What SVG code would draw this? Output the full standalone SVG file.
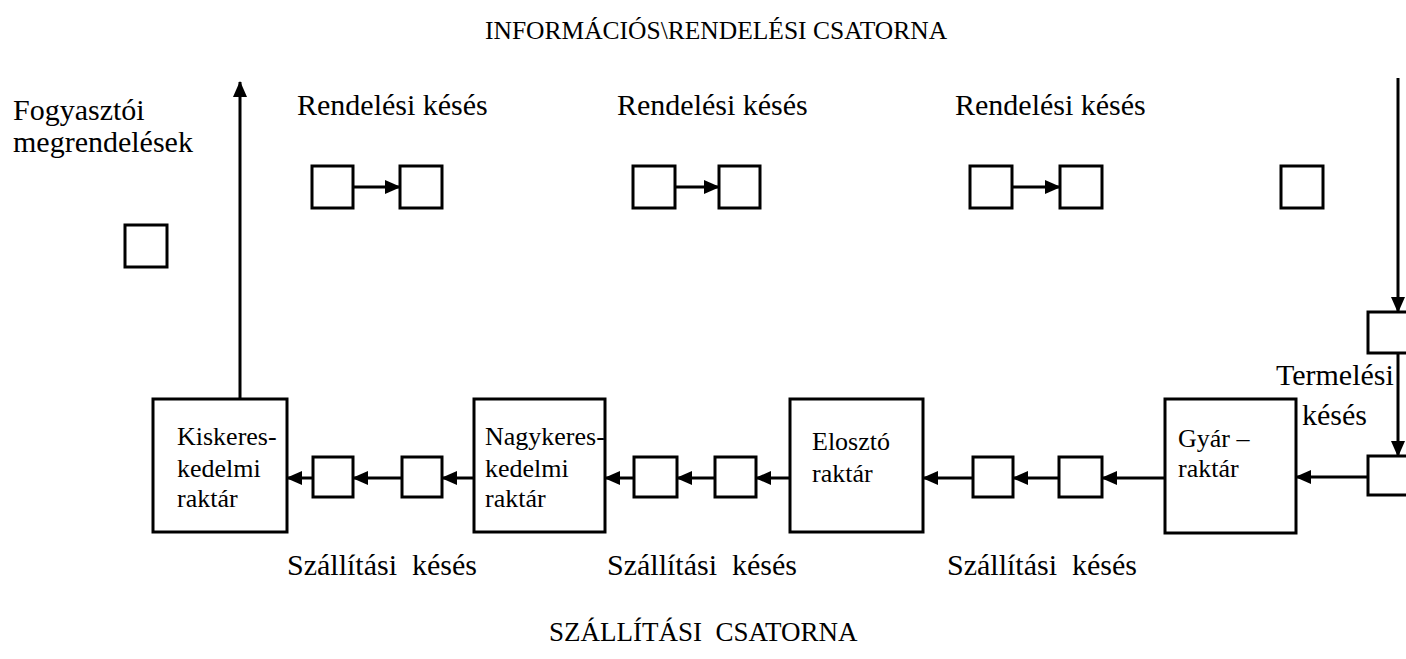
<svg xmlns="http://www.w3.org/2000/svg" width="1406" height="659" viewBox="0 0 1406 659">
<defs>
<marker id="ah" viewBox="0 0 16 14" refX="15" refY="7" markerWidth="16" markerHeight="14" markerUnits="userSpaceOnUse" orient="auto">
<path d="M0,0 L16,7 L0,14 Z" fill="#000"/>
</marker>
</defs>
<style>
.lbl{font-size:30px}
.title{font-size:25.5px}
.title2{font-size:27px}
.bx{font-size:26px}
.box{fill:#fff;stroke:#000;stroke-width:3}
.sq{fill:#fff;stroke:#000;stroke-width:3}
.ln{fill:none;stroke:#000;stroke-width:3}
</style>
<rect width="1406" height="659" fill="#fff"/>

<g id="connectors">
<line class="ln" x1="240" y1="399" x2="240" y2="82" marker-end="url(#ah)"/>
<line class="ln" x1="353" y1="187" x2="400" y2="187" marker-end="url(#ah)"/>
<line class="ln" x1="675" y1="187" x2="719" y2="187" marker-end="url(#ah)"/>
<line class="ln" x1="1012" y1="187" x2="1060" y2="187" marker-end="url(#ah)"/>
<line class="ln" x1="1398" y1="78" x2="1398" y2="312" marker-end="url(#ah)"/>
<line class="ln" x1="1398" y1="353" x2="1398" y2="456" marker-end="url(#ah)"/>
<line class="ln" x1="1368" y1="477" x2="1296" y2="477" marker-end="url(#ah)"/>
<line class="ln" x1="1165" y1="478" x2="1102" y2="478" marker-end="url(#ah)"/>
<line class="ln" x1="1059" y1="478" x2="1013" y2="478" marker-end="url(#ah)"/>
<line class="ln" x1="973" y1="478" x2="923" y2="478" marker-end="url(#ah)"/>
<line class="ln" x1="790" y1="478" x2="756" y2="478" marker-end="url(#ah)"/>
<line class="ln" x1="715" y1="478" x2="677" y2="478" marker-end="url(#ah)"/>
<line class="ln" x1="634" y1="478" x2="605" y2="478" marker-end="url(#ah)"/>
<line class="ln" x1="474" y1="478" x2="442" y2="478" marker-end="url(#ah)"/>
<line class="ln" x1="402" y1="478" x2="353" y2="478" marker-end="url(#ah)"/>
<line class="ln" x1="313" y1="478" x2="287" y2="478" marker-end="url(#ah)"/>
</g>

<g id="labels" font-family="'Liberation Serif', 'Times New Roman', Tinos, serif" fill="#000">
<text class="title" x="485" y="39">INFORMÁCIÓS\RENDELÉSI CSATORNA</text>
<text class="lbl" x="13" y="120">Fogyasztói</text>
<text class="lbl" x="13" y="152">megrendelések</text>
<text class="lbl" x="297" y="115">Rendelési késés</text>
<text class="lbl" x="617" y="115">Rendelési késés</text>
<text class="lbl" x="955" y="115">Rendelési késés</text>
<text class="lbl" x="1276" y="385">Termelési</text>
<text class="lbl" x="1302" y="425">késés</text>
<text class="lbl" x="287" y="575" xml:space="preserve">Szállítási  késés</text>
<text class="lbl" x="607" y="575" xml:space="preserve">Szállítási  késés</text>
<text class="lbl" x="947" y="575" xml:space="preserve">Szállítási  késés</text>
<text class="title2" x="549" y="641" xml:space="preserve">SZÁLLÍTÁSI  CSATORNA</text>
</g>

<g id="order-delays">
<rect class="sq" x="125" y="225" width="42" height="42"/>
<rect class="sq" x="312" y="166" width="41" height="42"/>
<rect class="sq" x="400" y="166" width="42" height="42"/>
<rect class="sq" x="633" y="166" width="42" height="42"/>
<rect class="sq" x="719" y="166" width="41" height="42"/>
<rect class="sq" x="970" y="166" width="42" height="42"/>
<rect class="sq" x="1060" y="166" width="42" height="42"/>
<rect class="sq" x="1281" y="166" width="42" height="42"/>
</g>

<g id="production-delay">
<rect class="sq" x="1368" y="312" width="50" height="41"/>
<rect class="sq" x="1368" y="456" width="50" height="39"/>
</g>

<g id="shipping-delays">
<rect class="sq" x="313" y="457" width="40" height="40"/>
<rect class="sq" x="402" y="457" width="40" height="40"/>
<rect class="sq" x="634" y="457" width="43" height="40"/>
<rect class="sq" x="715" y="457" width="41" height="40"/>
<rect class="sq" x="973" y="457" width="40" height="40"/>
<rect class="sq" x="1059" y="457" width="43" height="40"/>
</g>

<g id="kisker" font-family="'Liberation Serif', 'Times New Roman', Tinos, serif" fill="#000">
<rect class="box" x="153" y="399" width="134" height="133"/>
<text class="bx" x="177" y="445">Kiskeres-</text>
<text class="bx" x="177" y="477">kedelmi</text>
<text class="bx" x="177" y="507">raktár</text>
</g>

<g id="nagyker" font-family="'Liberation Serif', 'Times New Roman', Tinos, serif" fill="#000">
<rect class="box" x="474" y="399" width="131" height="133"/>
<text class="bx" x="485" y="445">Nagykeres-</text>
<text class="bx" x="485" y="477">kedelmi</text>
<text class="bx" x="485" y="507">raktár</text>
</g>

<g id="eloszto" font-family="'Liberation Serif', 'Times New Roman', Tinos, serif" fill="#000">
<rect class="box" x="790" y="399" width="133" height="133"/>
<text class="bx" x="812" y="450">Elosztó</text>
<text class="bx" x="812" y="482">raktár</text>
</g>

<g id="gyar" font-family="'Liberation Serif', 'Times New Roman', Tinos, serif" fill="#000">
<rect class="box" x="1165" y="399" width="131" height="134"/>
<text class="bx" x="1178" y="447">Gyár –</text>
<text class="bx" x="1178" y="477">raktár</text>
</g>
</svg>
